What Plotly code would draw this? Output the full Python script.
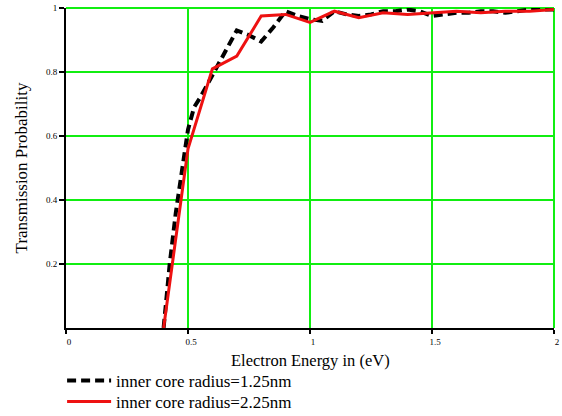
import plotly.graph_objects as go

# Data
black_x = [0.40, 0.425, 0.45, 0.475, 0.50, 0.525, 0.55, 0.60, 0.65, 0.70, 0.75, 0.80,
           0.85, 0.90, 0.95, 1.00, 1.05, 1.10, 1.15, 1.20, 1.25, 1.30, 1.35, 1.40,
           1.45, 1.50, 1.55, 1.60, 1.65, 1.70, 1.75, 1.80, 1.85, 1.90, 1.95, 2.00]
black_y = [0.0, 0.20, 0.36, 0.50, 0.62, 0.69, 0.72, 0.79, 0.86, 0.93, 0.915, 0.895,
           0.94, 0.99, 0.975, 0.965, 0.96, 0.99, 0.98, 0.975, 0.98, 0.99, 0.99, 0.995,
           0.99, 0.975, 0.98, 0.985, 0.985, 0.99, 0.99, 0.985, 0.99, 0.995, 0.995, 0.995]

red_x = [0.40, 0.50, 0.60, 0.70, 0.80, 0.90, 1.00, 1.10, 1.20, 1.30, 1.40, 1.50,
         1.60, 1.70, 1.80, 1.90, 2.00]
red_y = [0.0, 0.56, 0.81, 0.85, 0.975, 0.98, 0.955, 0.99, 0.97, 0.985, 0.98, 0.985,
         0.99, 0.985, 0.99, 0.99, 0.995]

x_ticks = [0, 0.5, 1, 1.5, 2]
x_ticklabels = ["0", "0.5", "1", "1.5", "2"]
y_ticks = [0.2, 0.4, 0.6, 0.8, 1]
y_ticklabels = ["0.2", "0.4", "0.6", "0.8", "1"]

names = ["inner core radius=1.25nm", "inner core radius=2.25nm"]
x_title = "Electron Energy in (eV)"
y_title = "Transmission Probability"

FONT = "'Times New Roman', 'Liberation Serif', 'DejaVu Serif', serif"
GRID = "#11ee11"

fig = go.Figure()
fig.add_trace(go.Scatter(x=black_x, y=black_y, mode="lines", name=names[0],
                         legend="legend",
                         line=dict(color="black", width=4, dash="9px,5px")))
fig.add_trace(go.Scatter(x=red_x, y=red_y, mode="lines", name=names[1],
                         legend="legend2",
                         line=dict(color="#ee1111", width=3)))

H = 416
ROW1, ROW2 = 381, 402  # legend row centres, px from top


def leg(row):
    return dict(x=-0.008, xref="paper", y=1 - row / H, yref="container",
                xanchor="left", yanchor="middle",
                font=dict(family=FONT, size=17), itemwidth=44,
                bgcolor="rgba(0,0,0,0)")


fig.update_layout(
    width=562, height=H,
    margin=dict(l=66, r=8, t=8, b=88),
    paper_bgcolor="white", plot_bgcolor="white",
    font=dict(family=FONT, color="black"),
    showlegend=True,
    legend=leg(ROW1),
    legend2=leg(ROW2),
    xaxis=dict(range=[0, 2], tickvals=x_ticks, ticktext=x_ticklabels,
               showgrid=True, gridcolor=GRID, gridwidth=2,
               showline=True, linecolor="black", linewidth=2,
               ticks="outside", ticklen=4, tickcolor="black", tickwidth=2,
               tickfont=dict(size=9, family=FONT), ticklabelshift=3,
               zeroline=False, automargin=False),
    yaxis=dict(range=[0, 1], tickvals=y_ticks, ticktext=y_ticklabels,
               showgrid=True, gridcolor=GRID, gridwidth=2,
               showline=True, linecolor="black", linewidth=2,
               ticks="outside", ticklen=5, tickcolor="black", tickwidth=2,
               tickfont=dict(size=9, family=FONT),
               zeroline=False, automargin=False,
               title=dict(text=y_title, font=dict(size=17, family=FONT),
                          standoff=14)),
)

# x-axis title as a paper-anchored annotation below the tick labels
fig.add_annotation(text=x_title, xref="paper", yref="paper", x=0.5, y=-0.1,
                   xanchor="center", yanchor="middle", showarrow=False,
                   font=dict(size=16.5, family=FONT, color="black"))

# green frame on top and right edges like the grid
fig.add_shape(type="line", xref="paper", yref="paper", x0=0, x1=1, y0=1, y1=1,
              line=dict(color=GRID, width=2), layer="below")
fig.add_shape(type="line", xref="paper", yref="paper", x0=1, x1=1, y0=0, y1=1,
              line=dict(color=GRID, width=2), layer="below")

fig.write_html("out.html")
